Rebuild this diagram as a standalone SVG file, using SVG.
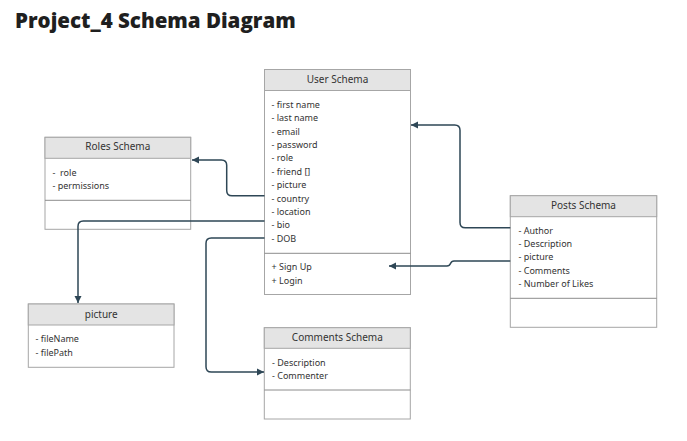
<svg xmlns="http://www.w3.org/2000/svg" width="687" height="441" viewBox="0 0 687 441">
<defs>
<style>
.box{fill:#ffffff;stroke:#a6a6a6;stroke-width:1}
.hdr{fill:#e4e4e4;stroke:#a6a6a6;stroke-width:1}
.div{stroke:#8c8c8c;stroke-width:1}
.h{font-family:"Noto Sans","Open Sans",sans-serif;font-size:10px;fill:#333333;text-anchor:middle}
.f{font-family:"Noto Sans","Open Sans",sans-serif;font-size:9px;fill:#333333}
.c{fill:none;stroke:#2e4756;stroke-width:1.5}
.title{font-family:"Open Sans","Liberation Sans",sans-serif;font-size:20.5px;font-weight:800;fill:#1f1f1f}
</style>
<marker id="arr" markerUnits="userSpaceOnUse" markerWidth="10" markerHeight="10" refX="7" refY="4" orient="auto">
<path d="M0,0.5 L7,4 L0,7.5 Z" fill="#2e4756"/>
</marker>
</defs>
<rect width="687" height="441" fill="#ffffff"/>
<text class="title" x="15" y="28">Project_4 Schema Diagram</text>

<g id="user">
<rect class="box" x="264.5" y="69.5" width="146" height="225"/>
<rect class="hdr" x="264.5" y="69.5" width="146" height="21"/>
<line class="div" x1="264.5" y1="253.3" x2="410.5" y2="253.3"/>
<text class="h" x="337.5" y="82.5">User Schema</text>
<text class="f" x="271.5" y="107.5">- first name</text>
<text class="f" x="271.5" y="121">- last name</text>
<text class="f" x="271.5" y="134.5">- email</text>
<text class="f" x="271.5" y="147.7">- password</text>
<text class="f" x="271.5" y="161.3">- role</text>
<text class="f" x="271.5" y="174.7">- friend []</text>
<text class="f" x="271.5" y="188.2">- picture</text>
<text class="f" x="271.5" y="201.5">- country</text>
<text class="f" x="271.5" y="214.8">- location</text>
<text class="f" x="271.5" y="228.2">- bio</text>
<text class="f" x="271.5" y="241.5">- DOB</text>
<text class="f" x="271.5" y="269.5">+ Sign Up</text>
<text class="f" x="271.5" y="283.5">+ Login</text>
</g>

<g id="roles">
<rect class="box" x="45" y="137.3" width="145.7" height="92"/>
<rect class="hdr" x="45" y="137.3" width="145.7" height="21"/>
<line class="div" x1="45" y1="200.3" x2="190.7" y2="200.3"/>
<text class="h" x="117.8" y="150">Roles Schema</text>
<text class="f" x="52.5" y="176" xml:space="preserve">-  role</text>
<text class="f" x="52.5" y="189">- permissions</text>
</g>

<g id="picture">
<rect class="box" x="28.3" y="304" width="145.7" height="63.3"/>
<rect class="hdr" x="28.3" y="304" width="145.7" height="21"/>
<text class="h" x="101.2" y="317.5">picture</text>
<text class="f" x="35.5" y="342">- fileName</text>
<text class="f" x="35.5" y="355.7">- filePath</text>
</g>

<g id="comments">
<rect class="box" x="264.3" y="327.7" width="146" height="91.3"/>
<rect class="hdr" x="264.3" y="327.7" width="146" height="20.6"/>
<line class="div" x1="264.3" y1="390" x2="410.3" y2="390"/>
<text class="h" x="337.3" y="341.2">Comments Schema</text>
<text class="f" x="272" y="365.7">- Description</text>
<text class="f" x="272" y="379">- Commenter</text>
</g>

<g id="posts">
<rect class="box" x="510.3" y="195.7" width="146.4" height="131.6"/>
<rect class="hdr" x="510.3" y="195.7" width="146.4" height="21"/>
<line class="div" x1="510.3" y1="298.3" x2="656.7" y2="298.3"/>
<text class="h" x="583.5" y="208.5">Posts Schema</text>
<text class="f" x="518.5" y="233.7">- Author</text>
<text class="f" x="518.5" y="246.7">- Description</text>
<text class="f" x="518.5" y="259.7">- picture</text>
<text class="f" x="518.5" y="273.7">- Comments</text>
<text class="f" x="518.5" y="286.7">- Number of Likes</text>
</g>

<g id="connectors">
<path class="c" d="M264.5,195.7 H232 Q226.7,195.7 226.7,190.4 V165.3 Q226.7,160 221.4,160 H192" marker-end="url(#arr)"/>
<path class="c" d="M264.5,221 H83.3 Q78,221 78,226.3 V303" marker-end="url(#arr)"/>
<path class="c" d="M264.5,238 H211.3 Q206,238 206,243.3 V366.7 Q206,372 211.3,372 H264" marker-end="url(#arr)"/>
<path class="c" d="M510.3,227.7 H465.3 Q460,227.7 460,222.4 V130.3 Q460,125 454.7,125 H411" marker-end="url(#arr)"/>
<path class="c" d="M510.3,261 H454 Q451.5,261 450.5,263.5 Q449.5,266 447,266 H389" marker-end="url(#arr)"/>
</g>
</svg>
